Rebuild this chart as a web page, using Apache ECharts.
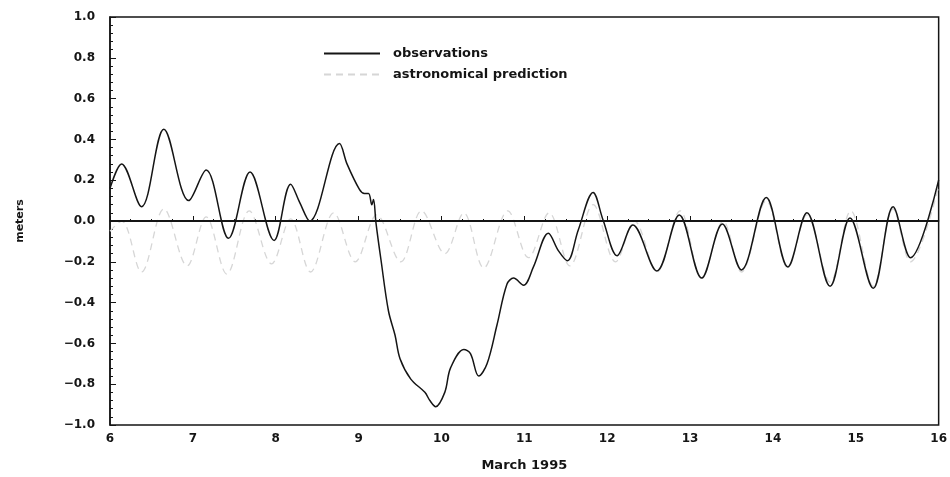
<!DOCTYPE html>
<html>
<head>
<meta charset="utf-8">
<script src="https://cdn.jsdelivr.net/npm/echarts@6/dist/echarts.min.js"></script>
<style>
  html, body { margin: 0; padding: 0; background: #ffffff; }
  #main { width: 950px; height: 477px; }
</style>
</head>
<body>
<div id="main"></div>
<script>
// observed water level (days of March 1995, meters)
var obsDay = [6.0, 6.14, 6.38, 6.65, 6.95, 7.16, 7.43, 7.69, 7.98, 8.18, 8.29, 8.41,
    8.77, 8.86, 9.01, 9.07, 9.12, 9.16, 9.18, 9.21, 9.27, 9.36, 9.44, 9.5, 9.63,
    9.8, 9.86, 9.93, 10.04, 10.11, 10.27, 10.35, 10.45, 10.55, 10.67, 10.79, 10.87,
    10.99, 11.11, 11.29, 11.41, 11.52, 11.65, 11.83, 11.95, 12.12, 12.31, 12.6,
    12.87, 13.14, 13.39, 13.62, 13.92, 14.18, 14.41, 14.69, 14.93, 15.21, 15.45,
    15.66, 16.0];
var obsVal = [0.16, 0.28, 0.07, 0.45, 0.10, 0.25, -0.085, 0.24, -0.095, 0.18, 0.09, 0.0,
    0.38, 0.28, 0.155, 0.135, 0.135, 0.08, 0.105, -0.01, -0.19, -0.44, -0.56, -0.675, -0.775,
    -0.84, -0.88, -0.91, -0.84, -0.72, -0.63, -0.65, -0.76, -0.70, -0.51, -0.31, -0.28,
    -0.315, -0.225, -0.06, -0.145, -0.195, -0.045, 0.14, 0.005, -0.17, -0.02, -0.245,
    0.03, -0.28, -0.015, -0.24, 0.115, -0.225, 0.04, -0.32, 0.015, -0.33, 0.07,
    -0.18, 0.2];

// astronomical prediction (faint dashed)
var predDay = [6.0, 6.14, 6.38, 6.65, 6.93, 7.16, 7.41, 7.68, 7.95, 8.18, 8.42, 8.7,
    8.96, 9.22, 9.51, 9.76, 10.04, 10.27, 10.51, 10.8, 11.05, 11.3, 11.55, 11.83,
    12.1, 12.33, 12.6, 12.88, 13.14, 13.4, 13.62, 13.92, 14.18, 14.41, 14.69, 14.94,
    15.21, 15.45, 15.66, 16.0];
var predVal = [-0.05, 0.0, -0.25, 0.06, -0.22, 0.02, -0.26, 0.05, -0.21, 0.01, -0.25, 0.04,
    -0.2, 0.03, -0.2, 0.05, -0.16, 0.04, -0.23, 0.05, -0.18, 0.04, -0.22, 0.08,
    -0.2, 0.0, -0.25, 0.05, -0.28, 0.0, -0.25, 0.1, -0.23, 0.03, -0.3, 0.05,
    -0.32, 0.06, -0.2, 0.17];

var xTicks = [6, 7, 8, 9, 10, 11, 12, 13, 14, 15, 16];

function pairs(xs, ys) {
    return xs.map(function (x, i) { return [x, ys[i]]; });
}

var font = 'DejaVu Sans';
var ink = '#151515';

var myChart = echarts.init(document.getElementById('main'));
var option = {
    backgroundColor: '#ffffff',
    animation: false,
    grid: {
        left: 110, right: 2, top: 17, bottom: 52,
        show: true, borderColor: ink, borderWidth: 1.5, backgroundColor: 'transparent'
    },
    legend: {
        orient: 'vertical',
        left: 318, top: 42,
        itemWidth: 56, itemHeight: 10, itemGap: 8,
        itemStyle: { opacity: 0 },
        textStyle: { fontFamily: font, fontWeight: 'bold', fontSize: 13, color: ink, padding: [0, 0, 0, 8] },
        data: ['observations', 'astronomical prediction']
    },
    xAxis: {
        type: 'value',
        min: xTicks[0], max: xTicks[xTicks.length - 1], interval: 1,
        name: 'March 1995',
        nameLocation: 'middle', nameGap: 34,
        nameTextStyle: { fontFamily: font, fontWeight: 'bold', fontSize: 13, color: ink },
        axisLine: { lineStyle: { color: ink, width: 1.5 } },
        axisTick: { inside: true, length: 5, lineStyle: { color: ink } },
        minorTick: { show: true, splitNumber: 4, length: 2, lineStyle: { color: ink } },
        axisLabel: { fontFamily: font, fontWeight: 'bold', fontSize: 12, color: ink, margin: 8 },
        splitLine: { show: false }
    },
    yAxis: {
        type: 'value',
        min: -1, max: 1, interval: 0.2,
        name: 'meters',
        nameLocation: 'middle', nameGap: 84,
        nameTextStyle: { fontFamily: font, fontWeight: 'bold', fontSize: 11, color: ink },
        axisLine: { show: true, lineStyle: { color: ink, width: 1.5 } },
        axisTick: { show: true, inside: true, length: 6, lineStyle: { color: ink } },
        minorTick: { show: true, splitNumber: 5, length: 3, lineStyle: { color: ink } },
        axisLabel: {
            fontFamily: font, fontWeight: 'bold', fontSize: 12, color: ink, margin: 15,
            formatter: function (v) { return (Math.abs(v) < 1e-9 ? 0 : v).toFixed(1).replace('-', '\u2212'); }
        },
        splitLine: { show: false }
    },
    series: [
        {
            name: 'observations',
            type: 'line',
            data: pairs(obsDay, obsVal),
            smooth: 0.35,
            symbol: 'none',
            lineStyle: { color: ink, width: 1.5 },
            itemStyle: { color: ink },
            z: 3,
            markLine: {
                silent: true,
                symbol: 'none',
                label: { show: false },
                lineStyle: { color: ink, type: 'solid', width: 1.8 },
                data: [{ yAxis: 0 }]
            }
        },
        {
            name: 'astronomical prediction',
            type: 'line',
            data: pairs(predDay, predVal),
            smooth: 0.35,
            symbol: 'none',
            lineStyle: { color: '#d6d6d6', width: 1.3, type: [7, 5] },
            itemStyle: { color: '#b0b0b0' },
            z: 2
        }
    ]
};
myChart.setOption(option);
</script>
</body>
</html>
